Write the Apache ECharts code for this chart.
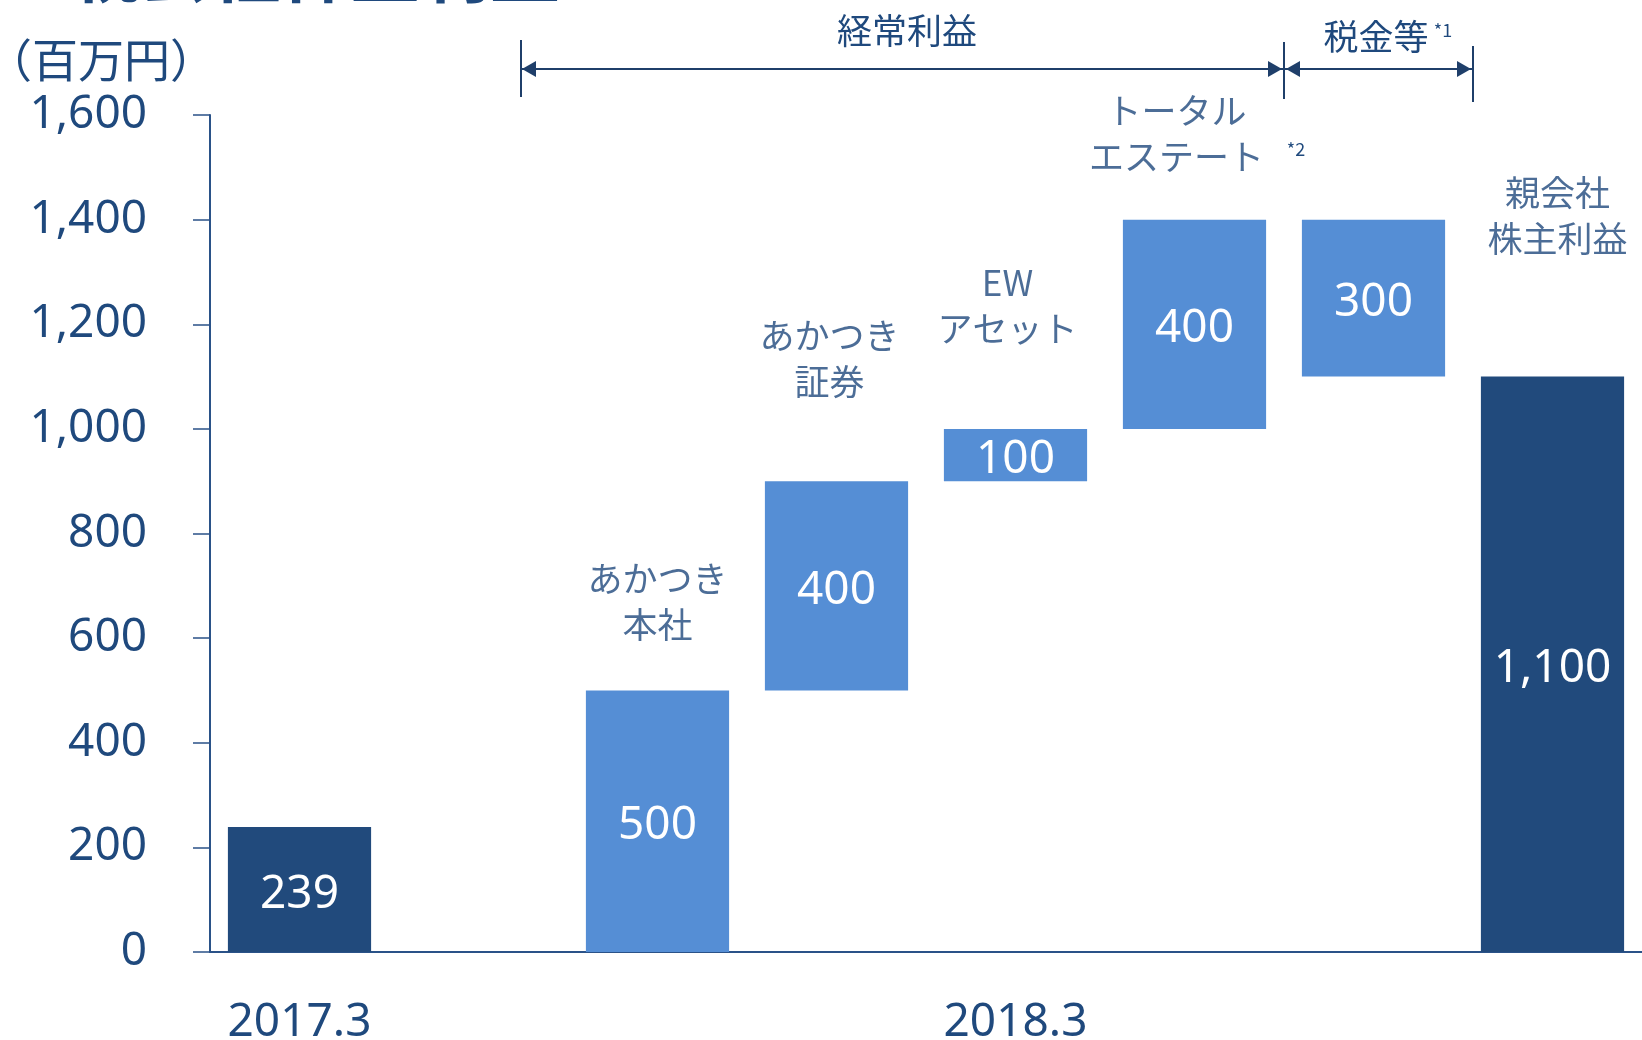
<!DOCTYPE html>
<html>
<head>
<meta charset="utf-8">
<title>親会社株主利益</title>
<script src="https://cdn.jsdelivr.net/npm/echarts@6/dist/echarts.min.js"></script>
<style>
  html, body { margin: 0; padding: 0; background: #fff; }
  #chart { width: 1642px; height: 1040px; }
</style>
</head>
<body>
<div id="chart"></div>
<script>
// categories (one per bar slot) and the axis labels shown under them
const categories = ['2017.3', '', 'あかつき本社', 'あかつき証券', 'EWアセット', 'トータルエステート', '税金等', '親会社株主利益']
const tickLabels = ['2017.3', '', '', '', '2018.3', '', '', '']

// waterfall: invisible base + visible part
const baseValues = [0, 0, 0, 500, 900, 1000, 1100, 0]
const stepValues = [null, null, 500, 400, 100, 400, 300, null]
const totalValues = [239, null, null, null, null, null, null, 1100]

// text above the step bars
const noteTexts = ['あかつき\n本社', 'あかつき\n証券', 'EW\nアセット', 'トータル\nエステート', '親会社\n株主利益']
const noteIndex = [2, 3, 4, 5, 7]

const NAVY = '#1F497D'
const DARK = '#214A7C'
const LIGHT = '#558ED5'
const JP = '"Noto Sans CJK JP", "Noto Sans", sans-serif'
const NUM = '"Noto Sans", "Open Sans", sans-serif'

// where the notes sit (value units) and their sideways nudge
const notePlace = [
  { y: 670, dx: 0 },
  { y: 1135, dx: -7 },
  { y: 1236, dx: -8 },
  { y: 1564, dx: -18 },
  { y: 1408, dx: 5 }
]

const chart = echarts.init(document.getElementById('chart'))

const valueLabel = {
  show: true,
  position: 'inside',
  offset: [0, 5],
  color: '#fff',
  fontFamily: NUM,
  fontSize: 46,
  formatter: p => p.value == null ? '' : p.value.toLocaleString('en-US')
}

// bracket with arrowheads at top
function arrowHead(x, y, dir) {
  const len = 14, half = 8
  return {
    type: 'polygon',
    shape: { points: [[x, y], [x - dir * len, y - half], [x - dir * len, y + half]] },
    style: { fill: '#1F3F6A' },
    silent: true
  }
}
function vline(x, y1, y2) {
  return { type: 'line', shape: { x1: x, y1: y1, x2: x, y2: y2 }, style: { stroke: '#1F3F6A', lineWidth: 2 }, silent: true }
}
function hline(x1, x2, y) {
  return { type: 'line', shape: { x1: x1, y1: y, x2: x2, y2: y }, style: { stroke: '#1F3F6A', lineWidth: 2 }, silent: true }
}
function text(str, x, y, size, align, vAlign, weight) {
  return {
    type: 'text', x: x, y: y, silent: true,
    style: {
      text: str, fill: NAVY, font: (weight || 'normal') + ' ' + size + 'px ' + JP,
      align: align || 'center', verticalAlign: vAlign || 'middle'
    }
  }
}

const option = {
  animation: false,
  grid: { left: 210, right: 0, top: 115, bottom: 88, containLabel: false, outerBoundsMode: 'none' },
  xAxis: {
    type: 'category',
    data: categories,
    axisLine: { lineStyle: { color: '#2A5288', width: 2 } },
    axisTick: { length: 17, lineStyle: { color: '#2A5288', width: 1.5 } },
    axisLabel: {
      interval: 0,
      margin: 48,
      color: NAVY,
      fontFamily: NUM,
      fontSize: 46,
      formatter: (v, i) => tickLabels[i]
    }
  },
  yAxis: {
    type: 'value',
    min: 0,
    max: 1600,
    interval: 200,
    splitLine: { show: false },
    axisLine: { show: true, lineStyle: { color: '#2A5288', width: 2 } },
    axisTick: { show: true, length: 17, lineStyle: { color: '#2A5288', width: 1.5 } },
    axisLabel: {
      margin: 63,
      padding: [6, 0, 0, 0],
      color: NAVY,
      fontFamily: NUM,
      fontSize: 46,
      formatter: v => v.toLocaleString('en-US')
    }
  },
  series: [
    {
      type: 'bar', stack: 'w', barWidth: '80%', silent: true,
      itemStyle: { color: 'transparent' },
      data: baseValues
    },
    {
      type: 'bar', stack: 'w', barWidth: '80%', silent: true,
      itemStyle: { color: LIGHT },
      label: valueLabel,
      data: stepValues
    },
    {
      type: 'bar', stack: 'w', barWidth: '80%', silent: true,
      itemStyle: { color: DARK },
      label: valueLabel,
      data: totalValues
    },
    {
      type: 'scatter', symbolSize: 0, silent: true,
      label: {
        show: true,
        position: 'inside',
        align: 'center',
        verticalAlign: 'middle',
        color: NAVY,
        fontFamily: JP,
        fontSize: 35,
        lineHeight: 46,
        formatter: p => p.name
      },
      data: noteTexts.map((t, i) => ({
        name: t,
        value: [noteIndex[i], notePlace[i].y],
        label: { offset: [notePlace[i].dx, 0] }
      }))
    }
  ],
  graphic: [
    // title, mostly above the picture
    text('親会社株主利益', 70, 5, 70, 'left', 'bottom', 'bold'),
    text('（百万円）', -14, 60, 46, 'left', 'middle'),
    // 経常利益 bracket
    vline(521, 40, 97),
    hline(521, 1284, 69),
    arrowHead(522, 69, -1),
    arrowHead(1282, 69, 1),
    vline(1284, 42, 99),
    text('経常利益', 907, 31, 35),
    // 税金等 bracket
    hline(1284, 1473, 69),
    arrowHead(1286, 69, -1),
    arrowHead(1471, 69, 1),
    vline(1473, 46, 102),
    text('税金等', 1376, 37, 35),
    text('*1', 1443, 30, 18),
    text('*2', 1296, 149, 18)
  ]
}

chart.setOption(option)
</script>
</body>
</html>
